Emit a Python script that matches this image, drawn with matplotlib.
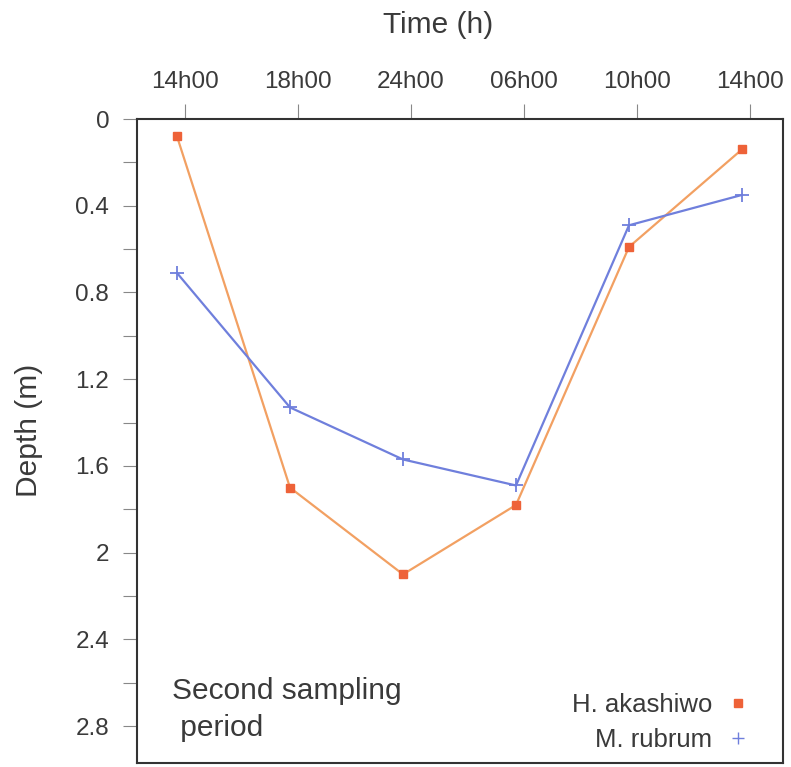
import matplotlib
matplotlib.use("Agg")
import matplotlib.pyplot as plt
from matplotlib.lines import Line2D
from matplotlib.ticker import MultipleLocator

plt.rcParams['font.family'] = ['Liberation Sans', 'DejaVu Sans']

# data (depth in m, one value per sampling time)
times = ["14h00", "18h00", "24h00", "06h00", "10h00", "14h00"]
h_akashiwo = [0.08, 1.70, 2.10, 1.78, 0.59, 0.14]
m_rubrum = [0.71, 1.33, 1.57, 1.69, 0.49, 0.35]

txt = '#3a3a3a'
orange_line = '#f2a062'
orange_mark = '#ee6238'
blue = '#6f7fdc'

fig = plt.figure(figsize=(7.91, 7.67), dpi=100)
ax = fig.add_axes([0.1732, 0.0052, 0.8167, 0.8396])

x = list(range(len(times)))
ax.plot(x, h_akashiwo, color=orange_line, lw=1.6, zorder=2)
ax.plot(x, h_akashiwo, ls='none', marker='s', ms=5.5, color=orange_mark, zorder=3)
ax.plot(x, m_rubrum, color=blue, lw=1.6, marker='+', ms=10, mew=1.3, zorder=3)

ax.set_xlim(-0.354, 5.363)
ax.set_ylim(2.97, 0)

# x axis on top, ticks a bit right of the points like the original
ax.xaxis.tick_top()
ax.set_xticks([i + 0.07 for i in x])
ax.set_xticklabels(times)
ax.tick_params(axis='x', which='both', top=True, bottom=False, direction='out',
               length=11, width=0.8, color='#888888', pad=8,
               labelsize=17.5, labelcolor=txt)

ax.yaxis.set_major_locator(MultipleLocator(0.4))
ax.yaxis.set_minor_locator(MultipleLocator(0.2))
ax.set_yticklabels(["0" if v == 0 else ("%g" % v) for v in ax.get_yticks()])
ax.tick_params(axis='y', which='both', left=True, right=False, direction='out',
               length=10, width=0.8, color='#888888', pad=10,
               labelsize=17.5, labelcolor=txt)

for s in ax.spines.values():
    s.set_color('#333333')
    s.set_linewidth(1.5)

ax.xaxis.set_label_position('top')
ax.set_xlabel("Time (h)", fontsize=21.5, color=txt, va='center', ha='center')
ax.xaxis.set_label_coords(0.466, 1.146)
ax.set_ylabel("Depth (m)", fontsize=21.5, color=txt, va='center', ha='center')
ax.yaxis.set_label_coords(-0.167, 0.517)

ax.text(0.054, 0.083, "Second sampling\n period", transform=ax.transAxes,
        fontsize=21.5, color=txt, ha='left', va='center', linespacing=1.4)

handles = [Line2D([], [], ls='none', marker='s', ms=5.5, color=orange_mark),
           Line2D([], [], ls='none', marker='+', ms=9, mew=1.0, color=blue)]
leg = ax.legend(handles, ["H. akashiwo", "M. rubrum"], loc='lower right',
                bbox_to_anchor=(0.966, 0.001), frameon=False, markerfirst=False,
                handlelength=1.0, handletextpad=0.5, labelspacing=0.45,
                fontsize=18.5, borderaxespad=0)
for t in leg.get_texts():
    t.set_color(txt)

fig.savefig("out.png", dpi=100)
